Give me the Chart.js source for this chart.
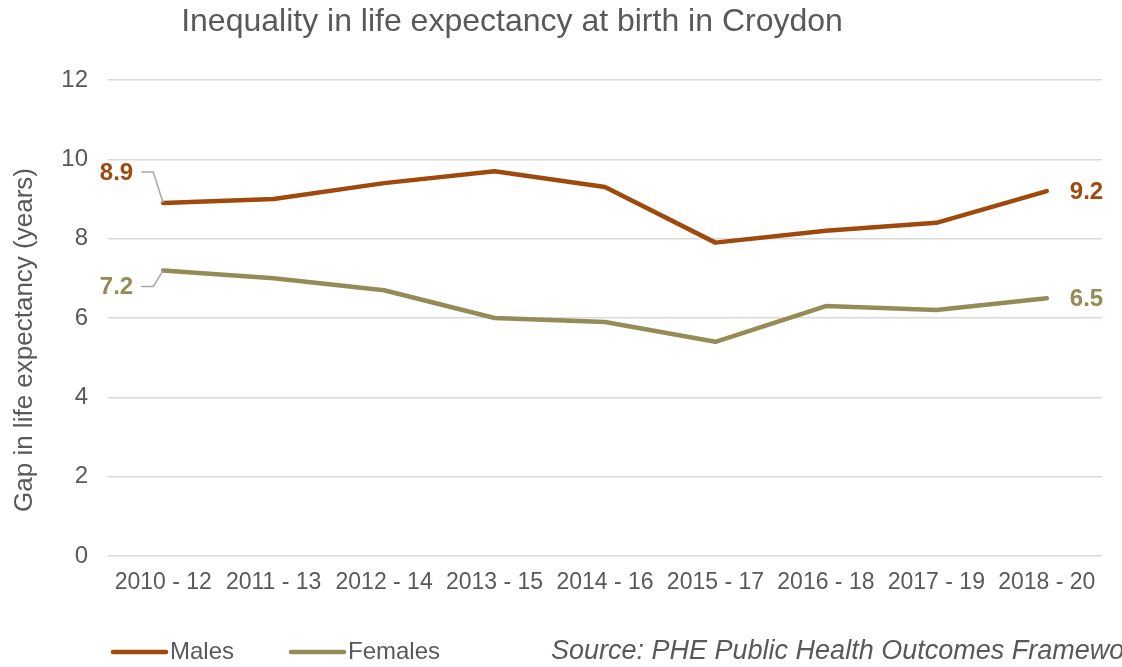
<!DOCTYPE html>
<html>
<head>
<meta charset="utf-8">
<script src="https://cdn.jsdelivr.net/npm/chart.js@4"></script>
<style>
  html, body { margin: 0; padding: 0; background: #fff; }
  #wrap { width: 1122px; height: 667px; position: relative; }
</style>
</head>
<body>
<div id="wrap"><canvas id="chart" width="1122" height="667"></canvas></div>
<script>
// Chart data
const periods = ['2010 - 12', '2011 - 13', '2012 - 14', '2013 - 15', '2014 - 16',
                 '2015 - 17', '2016 - 18', '2017 - 19', '2018 - 20'];
const males = [8.9, 9.0, 9.4, 9.7, 9.3, 7.9, 8.2, 8.4, 9.2];
const females = [7.2, 7.0, 6.7, 6.0, 5.9, 5.4, 6.3, 6.2, 6.5];
const yTicks = [0, 2, 4, 6, 8, 10, 12];

const MALE_COLOR = '#A0490C';
const FEMALE_COLOR = '#948B56';
const TEXT_COLOR = '#595959';
const FONT = '"Liberation Sans", Arial, sans-serif';

// Draws title, axis title, end labels with leader lines, legend and source note
const decorations = {
    id: 'decorations',
    afterDatasetsDraw(chart) {
        const ctx = chart.ctx;
        const x = chart.scales.x;
        const y = chart.scales.y;
        ctx.save();

        // title
        ctx.fillStyle = TEXT_COLOR;
        ctx.font = '32px ' + FONT;
        ctx.textAlign = 'center';
        ctx.textBaseline = 'middle';
        ctx.fillText('Inequality in life expectancy at birth in Croydon', 512, 22);

        // y axis title (sits a bit below the plot centre in the original)
        ctx.save();
        ctx.translate(25, 340);
        ctx.rotate(-Math.PI / 2);
        ctx.font = '26px ' + FONT;
        ctx.fillText('Gap in life expectancy (years)', 0, 0);
        ctx.restore();

        // labels on first and last points
        const last = periods.length - 1;
        const series = [
            { data: males, color: MALE_COLOR, dy: -31 },
            { data: females, color: FEMALE_COLOR, dy: 16 }
        ];
        ctx.font = 'bold 24px ' + FONT;
        series.forEach(s => {
            const x0 = x.getPixelForValue(0);
            const y0 = y.getPixelForValue(s.data[0]);
            const ly = y0 + s.dy;
            // leader line
            ctx.strokeStyle = '#A6A6A6';
            ctx.lineWidth = 1.5;
            ctx.beginPath();
            ctx.moveTo(x0 - 22, ly);
            ctx.lineTo(x0 - 10, ly);
            ctx.lineTo(x0, y0);
            ctx.stroke();

            ctx.fillStyle = s.color;
            ctx.textAlign = 'right';
            ctx.fillText(s.data[0].toFixed(1), x0 - 30, ly + 1);

            const x1 = x.getPixelForValue(last);
            const y1 = y.getPixelForValue(s.data[last]);
            ctx.textAlign = 'left';
            ctx.fillText(s.data[last].toFixed(1), x1 + 23, y1 + 1);
        });

        // legend
        const legendY = 652;
        const items = [
            { label: 'Males', color: MALE_COLOR, x: 113 },
            { label: 'Females', color: FEMALE_COLOR, x: 291 }
        ];
        ctx.font = '24px ' + FONT;
        ctx.textAlign = 'left';
        items.forEach(it => {
            ctx.strokeStyle = it.color;
            ctx.lineWidth = 4.5;
            ctx.lineCap = 'round';
            ctx.beginPath();
            ctx.moveTo(it.x, legendY);
            ctx.lineTo(it.x + 53, legendY);
            ctx.stroke();
            ctx.fillStyle = TEXT_COLOR;
            ctx.fillText(it.label, it.x + 57, legendY);
        });

        // source note (runs off the right edge like the original)
        ctx.font = 'italic 27px ' + FONT;
        ctx.fillStyle = TEXT_COLOR;
        ctx.fillText('Source: PHE Public Health Outcomes Framework', 551, legendY - 1);

        ctx.restore();
    }
};

new Chart(document.getElementById('chart'), {
    type: 'line',
    data: {
        labels: periods,
        datasets: [{
            label: 'Males',
            data: males,
            borderColor: MALE_COLOR,
            backgroundColor: MALE_COLOR,
            borderWidth: 4.5,
            pointRadius: 0,
            tension: 0,
            borderCapStyle: 'round',
            borderJoinStyle: 'round'
        }, {
            label: 'Females',
            data: females,
            borderColor: FEMALE_COLOR,
            backgroundColor: FEMALE_COLOR,
            borderWidth: 4.5,
            pointRadius: 0,
            tension: 0,
            borderCapStyle: 'round',
            borderJoinStyle: 'round'
        }]
    },
    options: {
        responsive: false,
        animation: false,
        layout: {
            padding: { top: 80, right: 20, bottom: 0, left: 0 }
        },
        plugins: {
            legend: { display: false },
            title: { display: false },
            tooltip: { enabled: false }
        },
        scales: {
            x: {
                offset: true,
                grid: { display: false, drawTicks: false },
                border: { display: false },
                ticks: {
                    color: TEXT_COLOR,
                    font: { family: FONT, size: 23 },
                    maxRotation: 0,
                    autoSkip: false,
                    padding: 13
                },
                afterFit(scale) { scale.height = 111; }
            },
            y: {
                min: 0,
                max: 12,
                afterBuildTicks(scale) {
                    scale.ticks = yTicks.map(v => ({ value: v }));
                },
                grid: { color: '#D9D9D9', lineWidth: 1.5, drawTicks: false },
                border: { display: false },
                ticks: {
                    color: TEXT_COLOR,
                    font: { family: FONT, size: 24 },
                    padding: 20
                },
                afterFit(scale) { scale.width = 108; }
            }
        }
    },
    plugins: [decorations]
});
</script>
</body>
</html>
